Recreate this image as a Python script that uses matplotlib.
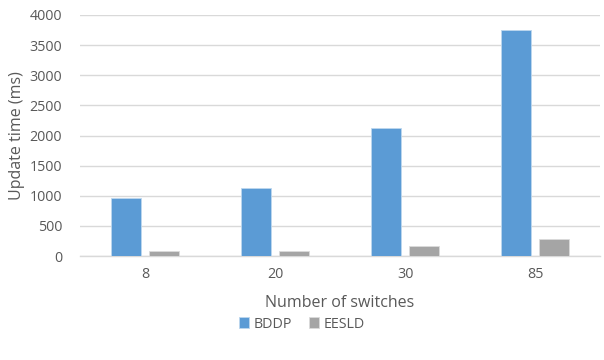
import matplotlib
matplotlib.use("Agg")
import matplotlib.pyplot as plt
import numpy as np

categories = ["8", "20", "30", "85"]
bddp = [960, 1130, 2120, 3750]
eesld = [80, 90, 165, 285]
series_names = ["BDDP", "EESLD"]

plt.rcParams['font.family'] = ['Open Sans', 'DejaVu Sans']
txt = '#595959'

fig = plt.figure(figsize=(6.04, 3.6), dpi=100)
ax = fig.add_axes([80/604, 1-256/360, 520/604, 241/360])

x = np.arange(len(categories))
w = 0.23
off = 0.145
ax.bar(x - off, bddp, w, color='#5B9BD5', edgecolor='#BDD7EE', linewidth=0.6, label=series_names[0], zorder=3)
ax.bar(x + off, eesld, w, color='#A5A5A5', edgecolor='#DBDBDB', linewidth=0.6, label=series_names[1], zorder=3)

ax.set_xlim(-0.5, len(categories) - 0.5)
ax.set_ylim(0, 4000)
ax.set_yticks(np.arange(0, 4001, 500))
ax.set_xticks(x)
ax.set_xticklabels(categories)
ax.grid(axis='y', color='#D9D9D9', linewidth=1, zorder=0)
for s in ['top', 'right', 'left']:
    ax.spines[s].set_visible(False)
ax.spines['bottom'].set_color('#D9D9D9')
ax.spines['bottom'].set_linewidth(1)
ax.tick_params(axis='both', length=0, colors=txt, labelsize=10.3)
ax.tick_params(axis='y', pad=13)
ax.tick_params(axis='x', pad=8)

ax.set_ylabel("Update time (ms)", fontsize=11.5, color=txt, labelpad=3)
ax.set_xlabel("Number of switches", fontsize=11.5, color=txt, labelpad=9)

fig.legend(loc='center', bbox_to_anchor=(0.5, 1-324/360), ncol=2, frameon=False,
           fontsize=10.3, labelcolor=txt, handlelength=0.7, handleheight=0.7,
           handletextpad=0.3, columnspacing=1.2)

fig.savefig("out.png", dpi=100)
